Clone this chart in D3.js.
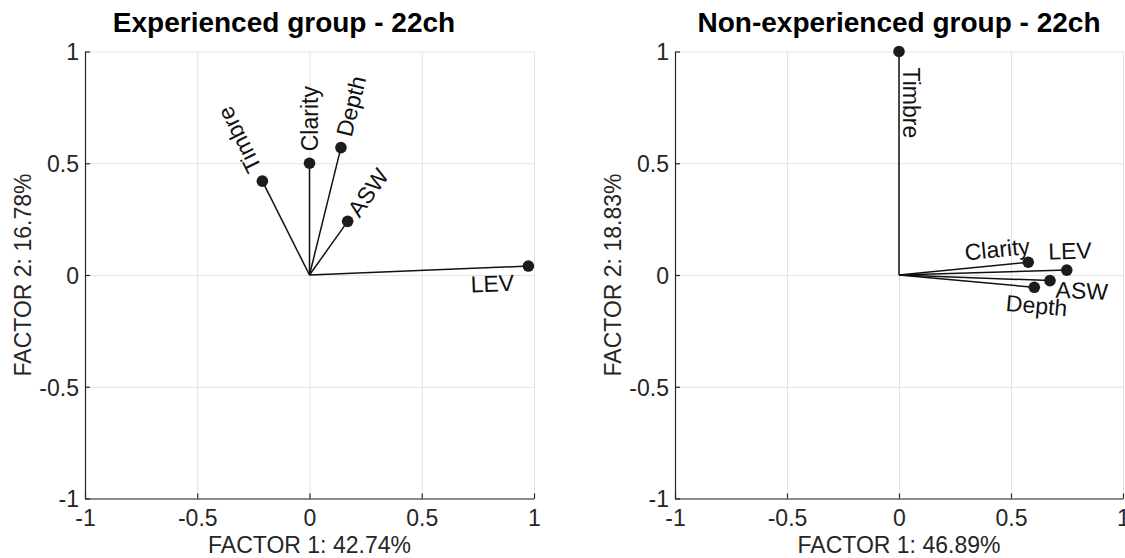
<!DOCTYPE html>
<html>
<head>
<meta charset="utf-8">
<script src="https://cdn.jsdelivr.net/npm/d3@7"></script>
<style>
  body { margin: 0; background: #fff; }
  svg text { font-family: "Liberation Sans", Arial, Helvetica, sans-serif; }
</style>
</head>
<body>
<svg id="chart" width="1125" height="558"></svg>
<script>
// variables of the factor analysis
const variables = ["Timbre", "Clarity", "Depth", "ASW", "LEV"];

// loadings - experienced group
const expFactor1 = [-0.21, 0.0, 0.14, 0.17, 0.975];
const expFactor2 = [0.42, 0.50, 0.57, 0.24, 0.04];

// loadings - non-experienced group
const nonExpFactor1 = [0.0, 0.577, 0.604, 0.674, 0.749];
const nonExpFactor2 = [1.0, 0.057, -0.055, -0.025, 0.022];

const tickValues = [-1, -0.5, 0, 0.5, 1];
const titles = ["Experienced group - 22ch", "Non-experienced group - 22ch"];
const xLabels = ["FACTOR 1: 42.74%", "FACTOR 1: 46.89%"];
const yLabels = ["FACTOR 2: 16.78%", "FACTOR 2: 18.83%"];

// where each label sits, in the frame of its vector (along / across)
const expLabelPos = {
  Timbre:  {along: 12, perp: -2, anchor: "start"},
  Clarity: {along: 12, perp: 0, anchor: "start"},
  Depth:   {along: 12, perp: 0, anchor: "start"},
  ASW:     {along: 9, perp: 0, anchor: "start"},
  LEV:     {along: -15, perp: 16, anchor: "end"}
};
const nonExpLabelPos = {
  Timbre:  {along: 16, perp: -12, anchor: "start", flip: true},
  Clarity: {along: 3, perp: -16, anchor: "end"},
  Depth:   {along: 4, perp: 18, anchor: "middle"},
  ASW:     {along: 6, perp: 9, anchor: "start"},
  LEV:     {along: -18, perp: -19, anchor: "start"}
};

class Biplot {

  constructor(_config, _data) {
    this.config = {
      svg: _config.svg,
      left: _config.left,
      right: _config.right,
      top: 51.5,
      bottom: 498.5,
      title: _config.title,
      titleX: _config.titleX,
      xLabel: _config.xLabel,
      yLabel: _config.yLabel,
      labelPos: _config.labelPos
    };
    this.data = _data;
    this.initVis();
  }

  initVis() {
    let vis = this;
    let c = vis.config;

    vis.x = d3.scaleLinear().domain([-1, 1]).range([c.left, c.right]);
    vis.y = d3.scaleLinear().domain([-1, 1]).range([c.bottom, c.top]);

    vis.g = c.svg.append("g");

    // grid
    vis.g.append("g")
        .attr("transform", "translate(0," + c.bottom + ")")
        .call(d3.axisBottom(vis.x).tickValues(tickValues).tickSize(-(c.bottom - c.top)).tickFormat(""))
        .call(g => g.select(".domain").remove())
        .selectAll("line").attr("stroke", "#e3e3e3").attr("stroke-width", 1);
    vis.g.append("g")
        .attr("transform", "translate(" + c.left + ",0)")
        .call(d3.axisLeft(vis.y).tickValues(tickValues).tickSize(-(c.right - c.left)).tickFormat(""))
        .call(g => g.select(".domain").remove())
        .selectAll("line").attr("stroke", "#e3e3e3").attr("stroke-width", 1);

    // axes, ticks pointing inside, plain hyphen for negatives
    let fmt = d => String(d);
    vis.xAxis = vis.g.append("g")
        .attr("transform", "translate(0," + c.bottom + ")")
        .call(d3.axisBottom(vis.x).tickValues(tickValues).tickSizeInner(-5).tickSizeOuter(0).tickPadding(8)
            .tickFormat(fmt));
    vis.yAxis = vis.g.append("g")
        .attr("transform", "translate(" + c.left + ",0)")
        .call(d3.axisLeft(vis.y).tickValues(tickValues).tickSizeInner(-5).tickSizeOuter(0).tickPadding(6)
            .tickFormat(fmt));

    [vis.xAxis, vis.yAxis].forEach(a => {
      a.select(".domain").attr("stroke", "#262626").attr("stroke-width", 1.2);
      a.selectAll(".tick line").attr("stroke", "#262626").attr("stroke-width", 1.2);
      a.selectAll(".tick text")
          .attr("fill", "#262626")
          .attr("font-size", "23px")
          .attr("font-family", "Liberation Sans, Arial, sans-serif");
    });
    vis.xAxis.selectAll(".tick text").attr("dy", "0.85em");
    vis.yAxis.selectAll(".tick text").attr("dy", "0.36em");

    // titles and axis labels
    vis.g.append("text")
        .attr("x", c.titleX)
        .attr("y", 32)
        .attr("text-anchor", "middle")
        .attr("font-size", "28px")
        .attr("font-weight", "bold")
        .attr("fill", "#000")
        .text(c.title);

    vis.g.append("text")
        .attr("x", (c.left + c.right) / 2)
        .attr("y", 553)
        .attr("text-anchor", "middle")
        .attr("font-size", "23px")
        .attr("fill", "#262626")
        .text(c.xLabel);

    vis.g.append("text")
        .attr("transform", "translate(" + (c.left - 54) + "," + ((c.top + c.bottom) / 2) + ") rotate(-90)")
        .attr("text-anchor", "middle")
        .attr("font-size", "23px")
        .attr("fill", "#262626")
        .text(c.yLabel);

    vis.renderVis();
  }

  renderVis() {
    let vis = this;
    let c = vis.config;

    // vectors
    vis.g.selectAll(".vec")
        .data(vis.data)
        .join("line")
        .attr("class", "vec")
        .attr("x1", vis.x(0))
        .attr("y1", vis.y(0))
        .attr("x2", d => vis.x(d.f1))
        .attr("y2", d => vis.y(d.f2))
        .attr("stroke", "#111")
        .attr("stroke-width", 1.5);

    vis.g.selectAll(".dot")
        .data(vis.data)
        .join("circle")
        .attr("class", "dot")
        .attr("cx", d => vis.x(d.f1))
        .attr("cy", d => vis.y(d.f2))
        .attr("r", 5.8)
        .attr("fill", "#1c1c1c");

    // labels rotated along each vector
    vis.g.selectAll(".varLabel")
        .data(vis.data)
        .join("text")
        .attr("class", "varLabel")
        .attr("transform", d => {
          let p = c.labelPos[d.name];
          let angle = Math.atan2(d.f2, d.f1) * 180 / Math.PI;
          if (p.flip) angle += 180;
          return "translate(" + vis.x(d.f1) + "," + vis.y(d.f2) + ") rotate(" + (-angle) + ")";
        })
        .attr("x", d => c.labelPos[d.name].along)
        .attr("y", d => c.labelPos[d.name].perp)
        .attr("text-anchor", d => c.labelPos[d.name].anchor)
        .attr("dominant-baseline", "central")
        .attr("font-size", "23px")
        .attr("fill", "#111")
        .text(d => d.name);
  }
}

const svg = d3.select("#chart");

const expData = variables.map((v, i) => ({name: v, f1: expFactor1[i], f2: expFactor2[i]}));
const nonExpData = variables.map((v, i) => ({name: v, f1: nonExpFactor1[i], f2: nonExpFactor2[i]}));

new Biplot({svg: svg, left: 85, right: 534, title: titles[0], titleX: 284,
  xLabel: xLabels[0], yLabel: yLabels[0], labelPos: expLabelPos}, expData);
new Biplot({svg: svg, left: 675, right: 1123, title: titles[1], titleX: 899,
  xLabel: xLabels[1], yLabel: yLabels[1], labelPos: nonExpLabelPos}, nonExpData);
</script>
</body>
</html>
